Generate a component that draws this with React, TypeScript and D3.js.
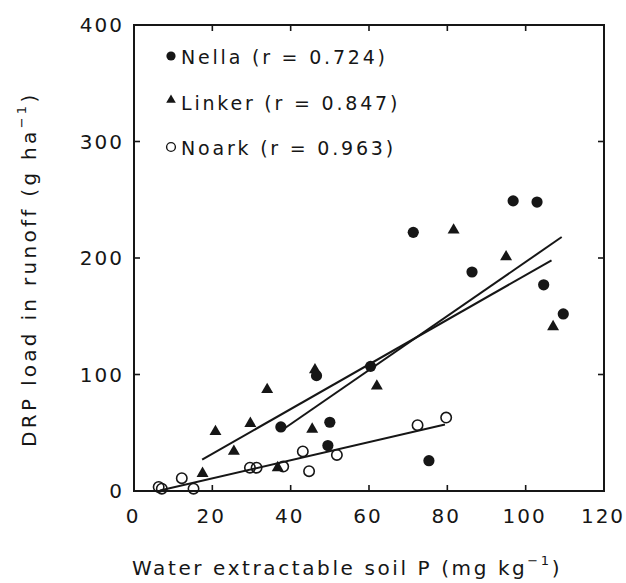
import React from 'react';
import * as d3 from 'd3';

// Nella (filled circles), Linker (triangles), Noark (open circles): [soil P, DRP load]
const nella: [number, number][] = [
  [37.5, 55], [46.6, 99], [50, 59], [49.5, 39], [60.4, 107], [71.3, 222],
  [75.3, 26], [86.3, 188], [96.8, 249], [102.9, 248], [104.6, 177], [109.6, 152],
];
const linker: [number, number][] = [
  [17.5, 15], [20.8, 51], [25.5, 34], [29.7, 58], [34, 87], [36.7, 20],
  [45.5, 53], [46.2, 104], [62, 90], [81.6, 224], [95, 201], [107, 141],
];
const noark: [number, number][] = [
  [6.3, 3.5], [7.1, 2], [12.2, 11], [15.2, 2], [29.6, 20], [31.3, 20],
  [38.1, 21], [43.1, 34], [44.7, 17], [51.8, 31], [72.4, 56.5], [79.7, 63],
];

// regression lines, start and end points
const nellaFit: [number, number][] = [[38.1, 53], [109.2, 218]];
const linkerFit: [number, number][] = [[17.4, 27], [106.6, 198]];
const noarkFit: [number, number][] = [[6.6, 0.5], [79.4, 57]];

const xTicks = [0, 20, 40, 60, 80, 100, 120];
const yTicks = [0, 100, 200, 300, 400];
const legendLabels = ['Nella (r = 0.724)', 'Linker (r = 0.847)', 'Noark (r = 0.963)'];

const INK = '#161616';
const FONT = "'DejaVu Sans', sans-serif";

export default function App() {
  const width = 626;
  const height = 583;
  const margin = { top: 25, right: 22, bottom: 92, left: 134 };

  const x = d3.scaleLinear().domain([0, 120]).range([margin.left, width - margin.right]);
  const y = d3.scaleLinear().domain([0, 400]).range([height - margin.bottom, margin.top]);

  const line = d3.line<[number, number]>().x(d => x(d[0])).y(d => y(d[1]));
  const tri = d3.symbol().type(d3.symbolTriangle).size(62)()!;
  const triSmall = d3.symbol().type(d3.symbolTriangle).size(40)()!;

  const [x0, x1] = x.range();
  const [y0, y1] = y.range();
  const tick = 6;

  return (
    <svg width={width} height={height} style={{ position: 'absolute', left: 0, top: 0, background: '#fff' }}>
      {/* frame */}
      <rect x={x0} y={y1} width={x1 - x0} height={y0 - y1} fill="none" stroke={INK} strokeWidth={2} />

      {/* x ticks (inside, top and bottom) */}
      {xTicks.slice(1, -1).map(t => (
        <g key={'xt' + t}>
          <line x1={x(t)} x2={x(t)} y1={y0} y2={y0 - tick} stroke={INK} strokeWidth={1.6} />
          <line x1={x(t)} x2={x(t)} y1={y1} y2={y1 + tick} stroke={INK} strokeWidth={1.6} />
        </g>
      ))}
      {xTicks.map(t => (
        <text key={'xl' + t} x={x(t) - 1} y={523} textAnchor="middle" fontFamily={FONT}
          fontSize={20} letterSpacing={2} fill={INK}>{t}</text>
      ))}

      {/* y ticks (inside, left and right) */}
      {yTicks.slice(1, -1).map(t => (
        <g key={'yt' + t}>
          <line x1={x0} x2={x0 + tick} y1={y(t)} y2={y(t)} stroke={INK} strokeWidth={1.6} />
          <line x1={x1} x2={x1 - tick} y1={y(t)} y2={y(t)} stroke={INK} strokeWidth={1.6} />
        </g>
      ))}
      {yTicks.map(t => (
        <text key={'yl' + t} x={124} y={y(t) + 7} textAnchor="end" fontFamily={FONT}
          fontSize={20} letterSpacing={2} fill={INK}>{t}</text>
      ))}

      {/* fit lines */}
      {[nellaFit, linkerFit, noarkFit].map((f, i) => (
        <path key={'fit' + i} d={line(f)!} fill="none" stroke={INK} strokeWidth={2} />
      ))}

      {/* points */}
      {noark.map((d, i) => (
        <circle key={'no' + i} cx={x(d[0])} cy={y(d[1])} r={5.2} fill="none" stroke={INK} strokeWidth={1.6} />
      ))}
      {linker.map((d, i) => (
        <path key={'li' + i} d={tri} transform={`translate(${x(d[0])},${y(d[1])})`} fill={INK} />
      ))}
      {nella.map((d, i) => (
        <circle key={'ne' + i} cx={x(d[0])} cy={y(d[1])} r={5.6} fill={INK} />
      ))}

      {/* legend */}
      <circle cx={171} cy={56} r={4.6} fill={INK} />
      <path d={triSmall} transform="translate(171,100)" fill={INK} />
      <circle cx={171} cy={147} r={4.4} fill="none" stroke={INK} strokeWidth={1.4} />
      {legendLabels.map((l, i) => (
        <text key={'lg' + i} x={181} y={64 + i * 45.5} fontFamily={FONT} fontSize={19}
          letterSpacing={2.8} fill={INK} style={{ whiteSpace: 'pre' }}>{l}</text>
      ))}

      {/* axis titles */}
      <text x={132} y={575} fontFamily={FONT} fontSize={20} letterSpacing={2.6} fill={INK}>
        Water extractable soil P (mg kg<tspan fontSize={13} dy={-10}>−1</tspan><tspan dy={10}>)</tspan>
      </text>
      <text transform="translate(36,447) rotate(-90)" fontFamily={FONT} fontSize={20}
        letterSpacing={3.3} fill={INK}>
        DRP load in runoff (g ha<tspan fontSize={13} dy={-10}>−1</tspan><tspan dy={10}>)</tspan>
      </text>
    </svg>
  );
}
